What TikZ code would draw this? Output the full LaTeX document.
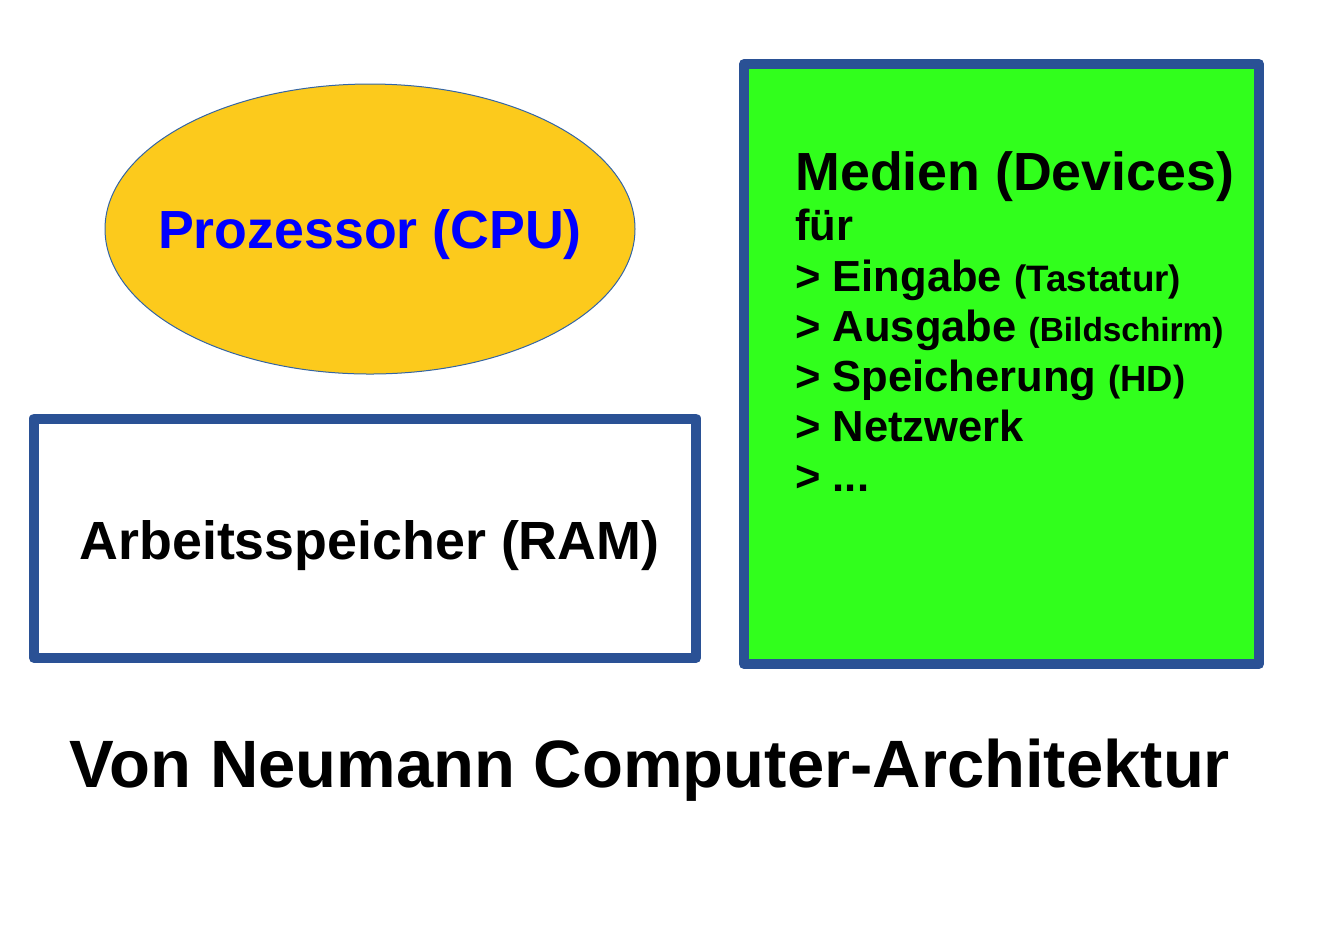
\documentclass[tikz,border=0pt]{standalone}
\usepackage{fontspec}
\setmainfont{Liberation Sans}
\definecolor{cpuyellow}{HTML}{FCCA1C}
\definecolor{cpuline}{HTML}{3465A4}
\definecolor{boxblue}{HTML}{2A5195}
\definecolor{devgreen}{HTML}{31FF1C}
\definecolor{cputext}{HTML}{0000FF}
\newcommand{\fsz}[1]{\fontsize{#1}{#1}\selectfont}
\newcommand{\parsz}[1]{\bfseries\fsz{#1}}
\tikzset{
  frame/.style={draw=boxblue, line width=5pt, line join=round},
  txt/.style={inner sep=0pt, font=\bfseries},
  devline/.style={txt, anchor=base west, font=\bfseries\fsz{21.75pt}}
}
\begin{document}
\begin{tikzpicture}[x=0.5pt,y=-0.5pt]
\useasboundingbox (0,0) rectangle (1321,934);
% CPU ellipse
\draw[fill=cpuyellow, draw=cpuline, line width=0.5pt] (370,229) ellipse [x radius=265, y radius=145];
\node[txt, anchor=base, text=cputext, font=\bfseries\fsz{26.85pt}] (cpu) at (370,248) {Prozessor (CPU)};
% RAM box
\draw[frame, fill=white] (34,418.5) rectangle (696,658);
\node[txt, anchor=base, font=\bfseries\fsz{26.9pt}] (ram) at (369.5,559.5) {Arbeitsspeicher (RAM)};
% Devices box
\draw[frame, fill=devgreen] (744,64) rectangle (1259,664);
\node[txt, anchor=base west, font=\bfseries\fsz{26.85pt}] (m1) at (795,190) {Medien (Devices)};
\node[devline] (m2) at (795,240) {für};
\node[devline] (m3) at (795,291.7) {> Eingabe {\parsz{18.4pt}(Tastatur)}};
\node[devline] (m4) at (795,341.7) {> Ausgabe {\parsz{16.7pt}(Bildschirm)}};
\node[devline] (m5) at (795,391) {> Speicherung {\parsz{18.2pt}(HD)}};
\node[devline] (m6) at (795,441.7) {> Netzwerk};
\node[devline] (m7) at (795,491.7) {> ...};
% Title
\node[txt, anchor=base, font=\bfseries\fsz{33.5pt}] (title) at (650,787) {Von Neumann Computer-Architektur};
\end{tikzpicture}
\end{document}
